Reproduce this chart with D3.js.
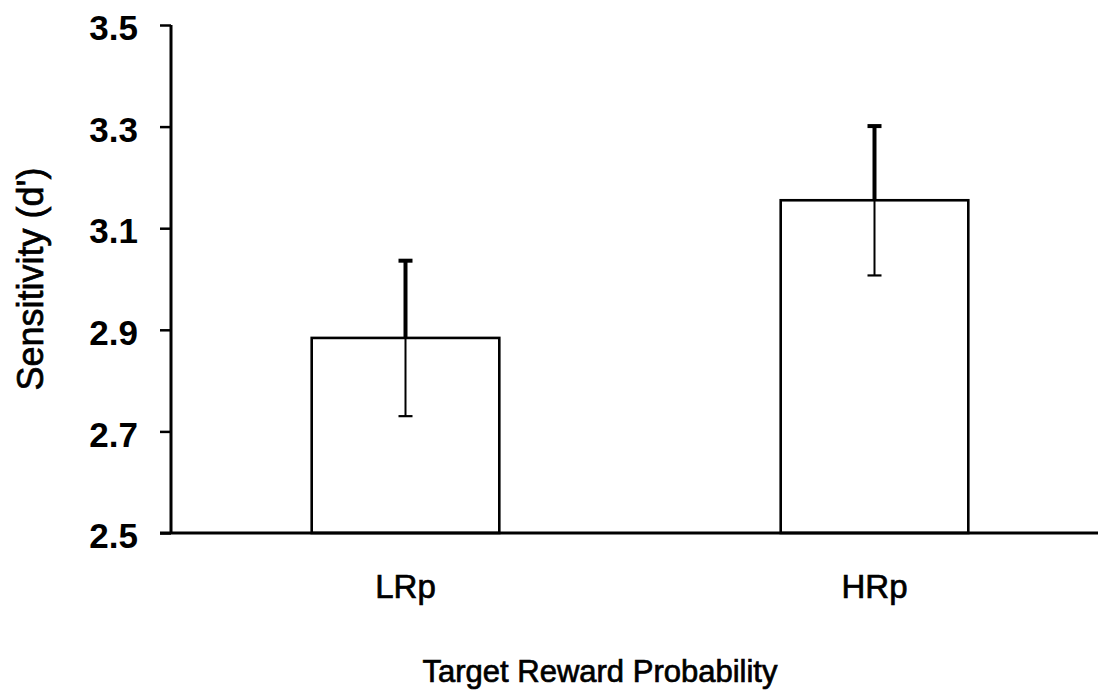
<!DOCTYPE html>
<html>
<head>
<meta charset="utf-8">
<script src="https://cdn.jsdelivr.net/npm/d3@7"></script>
<style>
  body { margin: 0; background: #fff; }
  text { font-family: "Liberation Sans", Arial, sans-serif; fill: #000; }
  .heavy { stroke: #000; stroke-width: 0.7px; }
</style>
</head>
<body>
<div id="chart"></div>
<script>
// data
var categories = ["LRp", "HRp"];
var means = [2.884, 3.155];
var errors = [0.154, 0.148];
var yTicks = [2.5, 2.7, 2.9, 3.1, 3.3, 3.5];

var width = 1098,
    height = 692;

var svg = d3.select("#chart")
    .append("svg")
    .attr("width", width)
    .attr("height", height);

var x0 = 171, yTop = 25, yBottom = 533;

var x = d3.scaleBand()
    .domain(categories)
    .range([x0, x0 + 938])
    .paddingInner(0.6)
    .paddingOuter(0.3);

var y = d3.scaleLinear()
    .domain([2.5, 3.5])
    .range([yBottom, yTop]);

var data = categories.map(function(c, i) { return {cat: c, mean: means[i], err: errors[i]}; });

//bars
svg.selectAll(".bar")
    .data(data)
    .enter().append("rect")
    .attr("class", "bar")
    .attr("x", function(d) { return x(d.cat); })
    .attr("y", function(d) { return y(d.mean); })
    .attr("width", x.bandwidth())
    .attr("height", function(d) { return yBottom - y(d.mean); })
    .style("fill", "#fff")
    .style("stroke", "#000")
    .style("stroke-width", 2.6);

//error bars - upper half heavier than the lower half
var cx = function(d) { return x(d.cat) + x.bandwidth() / 2; };
var eb = svg.selectAll(".err").data(data).enter().append("g").attr("class", "err");

eb.append("line")
    .attr("x1", cx).attr("x2", cx)
    .attr("y1", function(d) { return y(d.mean); })
    .attr("y2", function(d) { return y(d.mean + d.err); })
    .style("stroke", "#000").style("stroke-width", 4);
eb.append("line")
    .attr("x1", function(d) { return cx(d) - 7; }).attr("x2", function(d) { return cx(d) + 7; })
    .attr("y1", function(d) { return y(d.mean + d.err) + 1; })
    .attr("y2", function(d) { return y(d.mean + d.err) + 1; })
    .style("stroke", "#000").style("stroke-width", 4);
eb.append("line")
    .attr("x1", cx).attr("x2", cx)
    .attr("y1", function(d) { return y(d.mean); })
    .attr("y2", function(d) { return y(d.mean - d.err); })
    .style("stroke", "#000").style("stroke-width", 2);
eb.append("line")
    .attr("x1", function(d) { return cx(d) - 7; }).attr("x2", function(d) { return cx(d) + 7; })
    .attr("y1", function(d) { return y(d.mean - d.err); })
    .attr("y2", function(d) { return y(d.mean - d.err); })
    .style("stroke", "#000").style("stroke-width", 2.2);

//y axis
var yAxis = svg.append("g")
    .attr("transform", "translate(" + x0 + ",0)")
    .call(d3.axisLeft(y).tickValues(yTicks).tickFormat(d3.format(".1f")).tickSize(11).tickPadding(22));
yAxis.select(".domain").attr("d", "M0," + yTop + "V" + yBottom).style("stroke-width", 3);
yAxis.selectAll(".tick line").style("stroke-width", 2.5);
yAxis.selectAll(".tick text")
    .style("font-size", "35px")
    .style("font-weight", "bold")
    .style("font-family", "'Liberation Sans', Arial, sans-serif")
    .attr("dy", "0.42em");

//x axis baseline, runs to the edge
svg.append("line")
    .attr("x1", x0 - 11).attr("x2", width)
    .attr("y1", yBottom).attr("y2", yBottom)
    .style("stroke", "#000").style("stroke-width", 3);

//category labels
svg.selectAll(".catLabel")
    .data(categories)
    .enter().append("text")
    .attr("class", "catLabel heavy")
    .attr("x", function(d) { return x(d) + x.bandwidth() / 2; })
    .attr("y", 598)
    .attr("text-anchor", "middle")
    .style("font-size", "33px")
    .text(function(d) { return d; });

//axis titles
svg.append("text")
    .attr("class", "heavy")
    .attr("x", 600)
    .attr("y", 682)
    .attr("text-anchor", "middle")
    .style("font-size", "31px")
    .text("Target Reward Probability");

svg.append("text")
    .attr("class", "heavy")
    .attr("transform", "translate(43," + ((yTop + yBottom) / 2) + ") rotate(-90)")
    .attr("text-anchor", "middle")
    .style("font-size", "36px")
    .text("Sensitivity (d')");
</script>
</body>
</html>
